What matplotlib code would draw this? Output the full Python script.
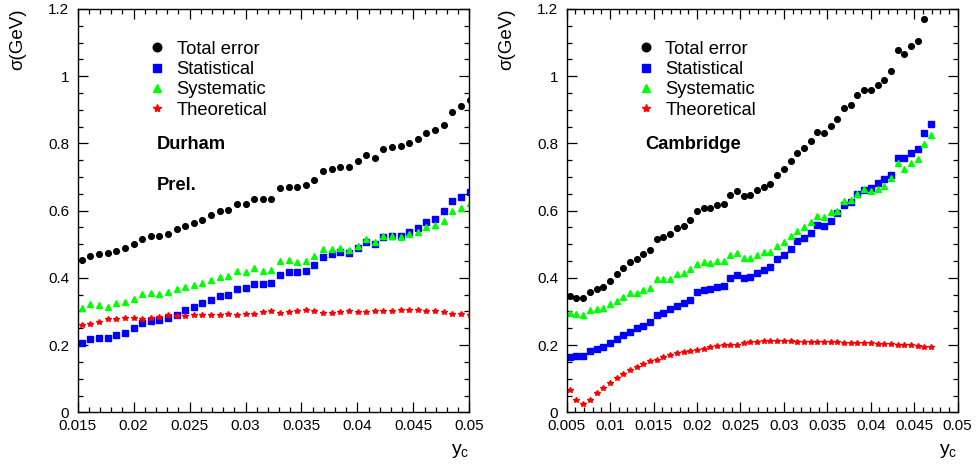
import matplotlib
matplotlib.use("Agg")
import matplotlib.pyplot as plt
from matplotlib.ticker import MultipleLocator, FuncFormatter

plt.rcParams['font.family'] = ['Liberation Sans', 'DejaVu Sans']
plt.rcParams['mathtext.default'] = 'regular'

# common y_c grid of the bins
yc_grid = [0.00536, 0.00613, 0.00690, 0.00767, 0.00844, 0.00921, 0.00998, 0.01075,
           0.01152, 0.01229, 0.01306, 0.01383, 0.01460, 0.01537, 0.01614, 0.01691,
           0.01768, 0.01845, 0.01922, 0.01999, 0.02076, 0.02153, 0.02230, 0.02307,
           0.02384, 0.02461, 0.02538, 0.02615, 0.02692, 0.02769, 0.02846, 0.02923,
           0.03000, 0.03077, 0.03154, 0.03231, 0.03308, 0.03385, 0.03462, 0.03539,
           0.03616, 0.03693, 0.03770, 0.03847, 0.03924, 0.04001, 0.04078, 0.04155,
           0.04232, 0.04309, 0.04386, 0.04463, 0.04540, 0.04617, 0.04694, 0.04771,
           0.04848, 0.04925, 0.05002]

# Durham (left)
durham_x = yc_grid[13:59]
durham_total = [0.454, 0.466, 0.470, 0.473, 0.481, 0.488, 0.501, 0.517, 0.525, 0.526,
                0.532, 0.546, 0.555, 0.564, 0.573, 0.587, 0.600, 0.603, 0.621, 0.620,
                0.634, 0.634, 0.636, 0.666, 0.669, 0.669, 0.675, 0.692, 0.719, 0.725,
                0.731, 0.731, 0.747, 0.765, 0.758, 0.783, 0.789, 0.791, 0.800, 0.814,
                0.832, 0.840, 0.855, 0.893, 0.911, 0.928]
durham_stat = [0.207, 0.218, 0.220, 0.221, 0.230, 0.236, 0.252, 0.267, 0.273, 0.276,
               0.281, 0.290, 0.303, 0.312, 0.324, 0.333, 0.346, 0.348, 0.366, 0.369,
               0.382, 0.382, 0.384, 0.408, 0.416, 0.416, 0.420, 0.437, 0.462, 0.471,
               0.476, 0.475, 0.489, 0.507, 0.501, 0.521, 0.524, 0.526, 0.536, 0.549,
               0.567, 0.576, 0.599, 0.629, 0.641, 0.655]
durham_syst = [0.310, 0.323, 0.318, 0.314, 0.324, 0.329, 0.338, 0.353, 0.355, 0.352,
               0.358, 0.366, 0.374, 0.378, 0.386, 0.395, 0.404, 0.406, 0.419, 0.418,
               0.428, 0.421, 0.423, 0.449, 0.452, 0.446, 0.451, 0.464, 0.485, 0.487,
               0.489, 0.483, 0.495, 0.517, 0.506, 0.525, 0.524, 0.521, 0.530, 0.536,
               0.552, 0.557, 0.570, 0.599, 0.609, 0.623]
durham_theo = [0.259, 0.263, 0.270, 0.277, 0.278, 0.281, 0.280, 0.278, 0.281, 0.285,
               0.289, 0.288, 0.287, 0.291, 0.290, 0.290, 0.290, 0.293, 0.290, 0.292,
               0.293, 0.299, 0.302, 0.296, 0.297, 0.301, 0.303, 0.301, 0.294, 0.295,
               0.299, 0.301, 0.299, 0.297, 0.302, 0.300, 0.302, 0.304, 0.304, 0.303,
               0.302, 0.302, 0.299, 0.292, 0.292, 0.290]

# Cambridge (right)
cam_x = yc_grid[0:55]
cam_total = [0.345, 0.339, 0.339, 0.359, 0.366, 0.374, 0.392, 0.411, 0.430, 0.447,
             0.455, 0.470, 0.482, 0.517, 0.523, 0.530, 0.548, 0.555, 0.572, 0.599,
             0.609, 0.607, 0.617, 0.620, 0.648, 0.659, 0.644, 0.646, 0.660, 0.671,
             0.680, 0.705, 0.724, 0.747, 0.773, 0.786, 0.807, 0.833, 0.831, 0.851,
             0.872, 0.906, 0.913, 0.944, 0.958, 0.960, 0.974, 0.989, 1.015, 1.079,
             1.067, 1.089, 1.105, 1.169]
cam_stat = [0.164, 0.168, 0.168, 0.183, 0.187, 0.193, 0.205, 0.219, 0.230, 0.240,
            0.250, 0.258, 0.268, 0.289, 0.294, 0.306, 0.317, 0.324, 0.335, 0.359,
            0.365, 0.366, 0.373, 0.377, 0.399, 0.410, 0.399, 0.403, 0.415, 0.424,
            0.432, 0.455, 0.469, 0.485, 0.509, 0.519, 0.533, 0.556, 0.555, 0.570,
            0.594, 0.617, 0.626, 0.651, 0.660, 0.668, 0.681, 0.694, 0.707, 0.757,
            0.757, 0.772, 0.784, 0.830, 0.858]
cam_syst = [0.295, 0.292, 0.291, 0.304, 0.308, 0.311, 0.321, 0.332, 0.342, 0.356,
            0.356, 0.365, 0.371, 0.397, 0.397, 0.397, 0.412, 0.414, 0.426, 0.442,
            0.446, 0.443, 0.450, 0.449, 0.469, 0.473, 0.460, 0.458, 0.467, 0.476,
            0.477, 0.494, 0.508, 0.526, 0.540, 0.550, 0.567, 0.583, 0.581, 0.595,
            0.598, 0.630, 0.631, 0.651, 0.665, 0.659, 0.664, 0.673, 0.698, 0.743,
            0.725, 0.741, 0.754, 0.798, 0.825]
cam_theo = [0.066, 0.036, 0.026, 0.036, 0.056, 0.071, 0.088, 0.103, 0.114, 0.125,
            0.136, 0.143, 0.152, 0.157, 0.164, 0.172, 0.176, 0.180, 0.183, 0.184,
            0.189, 0.193, 0.197, 0.199, 0.200, 0.201, 0.207, 0.208, 0.209, 0.212,
            0.212, 0.212, 0.211, 0.211, 0.210, 0.210, 0.210, 0.209, 0.210, 0.209,
            0.208, 0.207, 0.206, 0.206, 0.205, 0.205, 0.204, 0.203, 0.202, 0.200,
            0.199, 0.199, 0.198, 0.195, 0.193]

labels = ["Total error", "Statistical", "Systematic", "Theoretical"]


def style_axes(ax, xmin, xmax):
    ax.set_xlim(xmin, xmax)
    ax.set_ylim(0, 1.2)
    ax.xaxis.set_major_locator(MultipleLocator(0.005))
    ax.xaxis.set_minor_locator(MultipleLocator(0.001))
    ax.yaxis.set_major_locator(MultipleLocator(0.2))
    ax.yaxis.set_minor_locator(MultipleLocator(0.05))
    fmt = FuncFormatter(lambda v, p: "%g" % round(v, 4))
    ax.xaxis.set_major_formatter(fmt)
    ax.yaxis.set_major_formatter(fmt)
    ax.tick_params(which="both", direction="in", top=True, right=True, labelsize=11)
    ax.tick_params(which="major", length=7.5, width=0.9)
    ax.tick_params(which="minor", length=3.8, width=0.9)
    ax.tick_params(axis="x", pad=5)
    ax.tick_params(axis="y", pad=6)
    for s in ax.spines.values():
        s.set_linewidth(1.0)
    ax.set_ylabel(r"σ(GeV)", fontsize=13.5, loc="top", labelpad=16)
    ax.set_xlabel("y$_c$", fontsize=14, loc="right", labelpad=6)


def draw(ax, x, total, stat, syst, theo):
    h1, = ax.plot(x[:len(total)], total, "o", color="black", ms=4.1, ls="none")
    h2, = ax.plot(x, stat, "s", color="#0000ff", ms=4.0, ls="none")
    h3, = ax.plot(x, syst, "^", color="#00ff00", ms=4.3, ls="none")
    h4, = ax.plot(x, theo, "*", color="#ff0000", ms=4.0, ls="none")
    ax.legend([h1, h2, h3, h4], labels, loc="upper left", bbox_to_anchor=(0.18, 0.921),
              frameon=False, fontsize=13.2, markerscale=1.5, handlelength=1.0,
              handletextpad=0.55, labelspacing=0.18, borderpad=0, borderaxespad=0)


fig = plt.figure(figsize=(9.77, 4.73), dpi=100)
ax1 = fig.add_axes([0.0795, 0.1283, 0.4009, 0.8527])
ax2 = fig.add_axes([0.5800, 0.1283, 0.4002, 0.8527])

draw(ax1, durham_x, durham_total, durham_stat, durham_syst, durham_theo)
style_axes(ax1, 0.015, 0.05)
ax1.text(0.202, 0.664, "Durham", transform=ax1.transAxes, fontsize=13.2,
         fontweight="bold", va="center")
ax1.text(0.202, 0.562, "Prel.", transform=ax1.transAxes, fontsize=13.2,
         fontweight="bold", va="center")

draw(ax2, cam_x, cam_total, cam_stat, cam_syst, cam_theo)
style_axes(ax2, 0.005, 0.05)
ax2.text(0.202, 0.664, "Cambridge", transform=ax2.transAxes, fontsize=13.2,
         fontweight="bold", va="center")

fig.savefig("out.png", dpi=100)
